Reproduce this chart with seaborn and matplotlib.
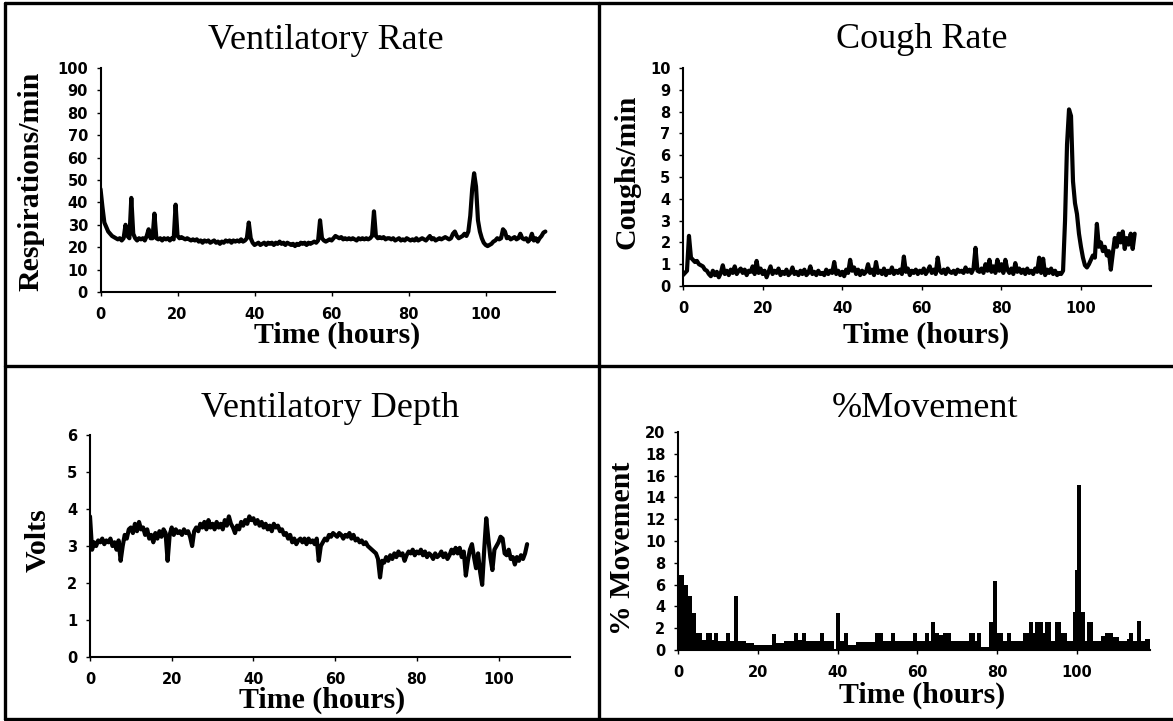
import numpy as np
import matplotlib.pyplot as plt
from matplotlib.lines import Line2D
import seaborn as sns

# sampling interval of the three line records (hours)
SAMPLE_HOURS = 0.5

# respirations/min, every half hour from t=0
vent_rate = [
    46, 38, 31, 29, 27, 26, 25, 24.5, 24, 23.5,
    24, 23, 24, 30, 25, 24, 42, 26, 24, 23,
    24, 23.5, 24, 23, 25, 28, 24, 24, 35, 24,
    23.5, 24, 23, 24, 23.5, 24, 23, 24, 23.5, 39,
    25, 24, 24.5, 24, 23.5, 24, 23.5, 23, 23.5, 23,
    23.5, 22.5, 23, 22, 23, 22.5, 23, 22, 22.5, 23,
    22, 22.5, 21.5, 22.5, 22, 23, 22.5, 23, 22, 23,
    22.5, 23, 22.5, 23.5, 22.5, 23, 24, 31, 24, 22,
    21, 21.5, 22, 21, 21.5, 22, 21, 22, 21.5, 22,
    21, 22, 21.5, 22.5, 21.5, 22, 21, 22, 21.5, 21,
    21.5, 20.5, 21.5, 21, 22, 21.5, 22, 21, 22, 21.5,
    22, 22.5, 22, 23, 32, 24, 23, 22.5, 23, 23.5,
    23, 24, 25, 24.5, 24, 24.5, 23.5, 24, 23.5, 24,
    23.5, 24, 23.5, 23, 24, 23.5, 24, 23.5, 24, 23.5,
    24, 25, 36, 25, 24, 24.5, 24, 24.5, 23.5, 24,
    24, 23.5, 24, 23, 23.5, 24, 23, 23.5, 23, 24,
    23.5, 23, 23.5, 23, 24, 23, 23.5, 24, 23.5, 23,
    24, 25, 23.5, 24, 23, 23.5, 24, 23.5, 24, 24.5,
    24, 23.5, 24, 26, 27, 25, 24, 24.5, 25, 26,
    25, 27, 34, 46, 53, 47, 32, 27, 24, 22,
    21, 20.5, 21, 21.5, 22.5, 23, 24, 23.5, 24, 28,
    27, 24, 24.5, 23.5, 24, 24.5, 23.5, 24, 26, 24,
    23.5, 24, 22.5, 23.5, 26, 23, 24, 22.5, 24, 25,
    26.5, 27,
]

# coughs/min, every half hour from t=0
cough_rate = [
    0.5, 0.6, 0.7, 2.3, 1.3, 1.2, 1.1, 1.15, 1.0, 0.95,
    0.9, 0.75, 0.7, 0.55, 0.45, 0.7, 0.5, 0.65, 0.4, 0.6,
    0.95, 0.55, 0.7, 0.5, 0.75, 0.6, 0.9, 0.55, 0.7, 0.8,
    0.6, 0.75, 0.5, 0.7, 0.65, 0.9, 0.55, 1.15, 0.6, 0.8,
    0.55, 0.7, 0.4, 0.65, 0.9, 0.55, 0.7, 0.6, 0.8, 0.5,
    0.65, 0.55, 0.75, 0.5, 0.6, 0.85, 0.55, 0.65, 0.5, 0.7,
    0.55, 0.75, 0.5, 0.6, 0.9, 0.55, 0.65, 0.5, 0.7, 0.55,
    0.6, 0.5, 0.75, 0.55, 0.7, 0.6, 1.1, 0.55, 0.7, 0.5,
    0.65, 0.45, 0.75, 0.6, 1.2, 0.7, 0.85, 0.55, 0.75, 0.5,
    0.7, 0.55, 0.65, 1.0, 0.6, 0.75, 0.5, 1.1, 0.6, 0.7,
    0.55, 0.8, 0.5, 0.7, 0.6, 0.85, 0.55, 0.7, 0.6, 0.75,
    0.55, 1.35, 0.65, 0.8, 0.5, 0.7, 0.6, 0.75, 0.55, 0.7,
    0.6, 0.8, 0.55, 0.7, 0.9, 0.6, 0.75, 0.55, 1.3, 0.7,
    0.6, 0.75, 0.55, 0.8, 0.65, 0.6, 0.7, 0.55, 0.75, 0.65,
    0.7, 0.6, 0.85, 0.65, 0.75, 0.6, 0.8, 1.75, 0.7, 0.65,
    0.8, 0.6, 1.0, 0.7, 1.2, 0.65, 0.9, 0.6, 1.2, 0.7,
    1.0, 0.6, 1.2, 0.75, 0.6, 0.8, 0.55, 1.05, 0.65, 0.8,
    0.6, 0.75, 0.55, 0.8, 0.6, 0.7, 0.55, 0.8, 0.65, 1.3,
    0.6, 1.25, 0.5, 0.75, 0.6, 0.8, 0.55, 0.7, 0.5, 0.6,
    0.55, 0.7, 3.0, 6.5, 8.1, 7.8, 4.8, 3.8, 3.3, 2.4,
    1.8, 1.3, 0.95, 0.85, 1.0, 1.2, 1.4, 1.3, 2.85, 1.8,
    2.0, 1.6, 1.8, 1.4, 1.6, 0.75, 1.5, 2.2, 1.8, 2.4,
    2.0, 2.5, 1.7, 2.2, 1.9, 2.4, 1.7, 2.4,
]

# volts, every half hour from t=0
vent_depth = [
    3.8, 2.9, 3.1, 3.0, 3.15, 3.1, 3.2, 3.05, 3.15, 3.1,
    3.2, 3.0, 3.1, 2.9, 3.15, 2.6, 3.0, 3.3, 3.2, 3.45,
    3.5, 3.35, 3.6, 3.4, 3.65, 3.45, 3.5, 3.3, 3.45, 3.2,
    3.3, 3.1, 3.35, 3.2, 3.4, 3.25, 3.45, 3.35, 2.6, 3.3,
    3.5, 3.3, 3.45, 3.35, 3.4, 3.3, 3.45, 3.35, 3.4, 3.25,
    3.0, 3.4, 3.5, 3.4, 3.6, 3.5, 3.65, 3.45, 3.7, 3.5,
    3.6, 3.45, 3.65, 3.5, 3.6, 3.45, 3.7, 3.55, 3.8, 3.6,
    3.5, 3.35, 3.55, 3.45, 3.65, 3.55, 3.7, 3.6, 3.8, 3.7,
    3.75, 3.6, 3.7, 3.55, 3.65, 3.5, 3.6, 3.45, 3.55, 3.4,
    3.6, 3.5, 3.55, 3.4, 3.45, 3.3, 3.35, 3.2, 3.3, 3.1,
    3.2, 3.05, 3.15, 3.2, 3.1, 3.2, 3.05, 3.2, 3.1, 3.15,
    3.05, 3.2, 2.6, 3.0, 3.1, 3.2, 3.15, 3.3, 3.25, 3.35,
    3.3, 3.25, 3.35, 3.3, 3.2, 3.3, 3.25, 3.35, 3.2, 3.3,
    3.15, 3.2, 3.1, 3.15, 3.05, 3.1, 3.0, 2.95, 2.9, 2.85,
    2.8, 2.65, 2.15, 2.6, 2.55, 2.7, 2.6, 2.75, 2.65, 2.8,
    2.7, 2.85, 2.75, 2.8, 2.6, 2.75, 2.85, 2.8, 2.9, 2.75,
    2.85, 2.8, 2.9, 2.75, 2.85, 2.7, 2.8, 2.75, 2.65, 2.8,
    2.7, 2.75, 2.85, 2.7, 2.8, 2.65, 2.75, 2.9, 2.8, 2.95,
    2.8, 2.95, 2.7, 2.85, 2.2, 2.6, 2.9, 3.05, 2.7, 2.4,
    2.8, 2.3, 1.95, 2.9, 3.75, 3.2, 2.7, 2.35, 2.9, 3.0,
    3.1, 3.25, 3.2, 2.8, 2.75, 2.9, 2.65, 2.7, 2.5, 2.7,
    2.6, 2.75, 2.65, 2.8, 3.05,
]

# % movement, binned: bin start (hours) and value
move_start = [
    0, 1.5, 2.5, 3.5, 4.5, 6.0, 7.0, 8.5, 9.0, 10.0,
    12.0, 13.0, 14.0, 15.0, 17.0, 19.0, 23.5, 24.5, 26.5, 29.0,
    30.0, 31.0, 32.0, 35.5, 36.5, 39.0, 39.5, 40.5, 41.5, 42.5,
    44.5, 49.5, 51.5, 53.5, 54.5, 59.0, 60.0, 62.0, 63.0, 63.5,
    64.5, 65.5, 66.5, 68.5, 73.0, 74.5, 75.0, 76.0, 78.0, 79.0,
    80.0, 81.5, 82.5, 83.5, 86.5, 88.0, 89.0, 89.5, 91.5, 92.0,
    93.5, 94.5, 96.0, 97.5, 99.0, 99.5, 100.0, 101.0, 102.0, 102.5,
    104.0, 106.0, 107.0, 109.0, 110.5, 112.5, 113.0, 114.0, 115.0, 116.0,
    117.0,
]
move_pct = [
    6.9, 6.0, 5.0, 3.4, 1.6, 0.9, 1.6, 0.9, 1.6, 0.8,
    1.6, 0.8, 5.0, 0.8, 0.6, 0.5, 1.5, 0.6, 0.8, 1.6,
    0.9, 1.6, 0.8, 1.6, 0.8, 0.0, 3.4, 0.8, 1.6, 0.5,
    0.7, 1.6, 0.8, 1.6, 0.8, 1.6, 0.8, 1.6, 0.8, 2.6,
    1.6, 1.4, 1.6, 0.8, 1.6, 0.8, 1.6, 0.3, 2.6, 6.3,
    1.6, 0.8, 1.6, 0.8, 1.6, 2.6, 1.6, 2.6, 1.6, 2.6,
    0.8, 2.6, 1.6, 0.8, 3.5, 7.3, 15.1, 3.5, 0.8, 2.6,
    0.8, 1.3, 1.6, 1.2, 0.8, 1.0, 1.6, 0.8, 2.7, 0.8,
    1.0,
]
move_end = 118.5

sns.set_style("ticks")
plt.rcParams['font.family'] = ['Liberation Serif', 'DejaVu Serif']
plt.rcParams['text.color'] = 'black'
plt.rcParams['axes.labelcolor'] = 'black'
plt.rcParams['xtick.color'] = 'black'
plt.rcParams['ytick.color'] = 'black'

W, H = 1173, 721
fig = plt.figure(figsize=(W / 100, H / 100), dpi=100)


def add_panel(box, xmax, ymax, ystep):
    l, t, r, b = box
    ax = fig.add_axes([l / W, 1 - b / H, (r - l) / W, (b - t) / H])
    ax.set_xlim(0, xmax)
    ax.set_ylim(0, ymax)
    ax.set_xticks(range(0, 101, 20))
    ax.set_yticks(np.arange(0, ymax + ystep / 2, ystep))
    ax.set_yticklabels([f"{v:g}" for v in np.arange(0, ymax + ystep / 2, ystep)])
    sns.despine(ax=ax)
    for s in ("left", "bottom"):
        ax.spines[s].set_linewidth(1.5)
        ax.spines[s].set_color("black")
    ax.tick_params(axis="both", length=3, width=1, color="black", labelcolor="black")
    ax.tick_params(axis="x", pad=8)
    ax.tick_params(axis="y", pad=6)
    for lab in ax.get_xticklabels() + ax.get_yticklabels():
        lab.set_fontfamily("DejaVu Sans")
        lab.set_fontweight("bold")
        lab.set_fontsize(10.5)
    return ax


def px(x, y):
    return x / W, 1 - y / H


def dress(ax, title, t_pos, xl_pos, ylabel, yl_pos):
    ax.text(*px(*t_pos), title, fontsize=26, va="baseline", ha="center",
            color="black", transform=fig.transFigure)
    ax.set_xlabel("Time (hours)", fontsize=21.5, fontweight="bold",
                  va="baseline", color="black")
    ax.xaxis.set_label_coords(*px(*xl_pos), transform=fig.transFigure)
    ax.set_ylabel(ylabel, fontsize=21.5, fontweight="bold", va="center",
                  ha="center", color="black")
    ax.yaxis.set_label_coords(*px(*yl_pos), transform=fig.transFigure)


LINE_W = 3.0

# Ventilatory Rate
ax1 = add_panel((100.5, 68, 555, 292), 118, 100, 10)
t1 = np.arange(len(vent_rate)) * SAMPLE_HOURS
sns.lineplot(x=t1, y=vent_rate, ax=ax1, color="black", lw=LINE_W, estimator=None)
dress(ax1, "Ventilatory Rate", (326, 49), (337, 343), "Respirations/min", (31, 181))

# Cough Rate
ax2 = add_panel((683, 68, 1151, 286), 117.6, 10, 1)
t2 = np.arange(len(cough_rate)) * SAMPLE_HOURS
sns.lineplot(x=t2, y=cough_rate, ax=ax2, color="black", lw=LINE_W, estimator=None)
dress(ax2, "Cough Rate", (922, 48), (926, 343), "Coughs/min", (627, 172))

# Ventilatory Depth
ax3 = add_panel((90, 435, 570, 657), 117.5, 6, 1)
t3 = np.arange(len(vent_depth)) * SAMPLE_HOURS
sns.lineplot(x=t3, y=vent_depth, ax=ax3, color="black", lw=LINE_W, estimator=None)
dress(ax3, "Ventilatory Depth", (330, 417), (322, 708), "Volts", (38, 540))

# %Movement
ax4 = add_panel((678, 432, 1150, 650), 118.3, 20, 2)
sns.histplot(x=move_start, weights=move_pct, bins=move_start + [move_end],
             ax=ax4, color="black", alpha=1, linewidth=0, element="bars")
ax4.set_xlim(0, 118.3)
ax4.set_ylim(0, 20)
dress(ax4, "%Movement", (925, 417), (922, 703), "% Movement", (622, 548))

# panel frame lines
frame = [
    ((5, 1173), (3, 3)),
    ((5, 1173), (719, 719)),
    ((5, 5), (3, 719)),
    ((599, 599), (3, 719)),
    ((5, 1173), (366, 366)),
]
for xs, ys in frame:
    fig.add_artist(Line2D([x / W for x in xs], [1 - y / H for y in ys],
                          color="black", lw=2.4, transform=fig.transFigure))

fig.savefig("out.png", dpi=100)
